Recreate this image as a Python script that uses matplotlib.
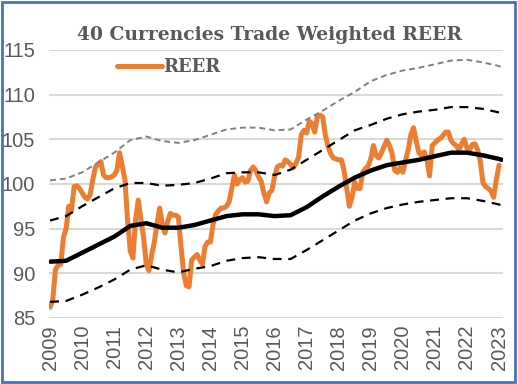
import numpy as np
import matplotlib
matplotlib.use("Agg")
import matplotlib.pyplot as plt
from matplotlib.patches import Rectangle

# Monthly REER, Jan 2009 .. Feb 2023
reer = [
    86.2, 87.0, 90.4, 90.9, 91.0, 94.0, 95.0, 97.5, 97.0, 99.7, 99.8, 99.5,
    99.0, 98.5, 98.3, 98.8, 100.5, 101.9, 102.2, 102.5, 101.0, 100.7, 100.7, 100.8,
    101.0, 101.5, 103.5, 102.0, 100.5, 96.0, 92.5, 91.7, 96.0, 98.2, 96.0, 94.0,
    91.0, 90.3, 92.0, 93.5, 95.5, 97.3, 95.5, 94.5, 95.8, 96.7, 96.5, 96.5,
    96.3, 93.0, 90.0, 88.6, 88.5, 91.5, 91.8, 92.1, 91.5, 91.0, 93.0, 93.5,
    93.5, 95.5, 96.6, 97.0, 97.3, 97.3, 97.5, 98.0, 99.5, 101.0, 100.0, 100.5,
    100.7, 100.2, 100.3, 101.5, 101.9, 101.5, 100.8, 100.3, 99.0, 98.0, 99.0, 99.3,
    100.8, 101.9, 102.1, 102.0, 102.7, 102.5, 102.2, 101.8, 102.3, 103.0, 105.5, 106.0,
    105.7, 107.0, 106.8, 105.8, 107.5, 107.7, 107.5, 105.5, 104.2, 103.4, 102.9, 102.8,
    102.7, 102.7, 101.5, 99.5, 97.5, 98.5, 100.2, 99.5, 99.5, 101.3, 101.7, 102.0,
    102.8, 104.3, 103.2, 102.9, 103.5, 104.2, 104.9, 104.3, 103.4, 101.5, 101.3, 101.8,
    101.3, 102.6, 103.8, 105.5, 106.3, 104.8, 103.5, 103.2, 103.6, 102.8, 100.9, 104.3,
    104.6, 104.9, 105.1, 105.4, 105.8, 105.8, 104.9, 104.5, 104.3, 103.8, 104.5, 105.0,
    104.0, 103.8, 104.4, 104.5, 103.8, 102.5, 100.1, 99.7, 99.5, 99.2, 98.5, 100.5,
    102.1,
]

# Trend and bands, read every six months (month index)
band_months = [0, 6, 12, 18, 24, 30, 36, 42, 48, 54, 60, 66, 72, 78, 84, 90,
               96, 102, 108, 114, 120, 126, 132, 138, 144, 150, 156, 162, 168, 169]
trend = [91.3, 91.4, 92.3, 93.2, 94.1, 95.3, 95.6, 95.1, 95.1, 95.4, 95.9, 96.4,
         96.6, 96.6, 96.4, 96.5, 97.4, 98.6, 99.7, 100.7, 101.5, 102.1, 102.4,
         102.7, 103.1, 103.5, 103.5, 103.2, 102.8, 102.7]
upper1 = [95.9, 96.4, 97.5, 98.5, 99.5, 100.1, 100.1, 99.8, 99.9, 100.1, 100.6,
          101.2, 101.3, 101.3, 101.0, 101.6, 102.7, 103.8, 104.9, 106.0, 106.6,
          107.3, 107.8, 108.1, 108.3, 108.6, 108.6, 108.4, 108.0, 107.9]
lower1 = [86.8, 86.9, 87.6, 88.4, 89.3, 90.4, 90.9, 90.4, 90.1, 90.5, 90.8, 91.4,
          91.7, 91.8, 91.6, 91.6, 92.6, 93.7, 94.8, 95.9, 96.7, 97.3, 97.7, 98.0,
          98.2, 98.4, 98.4, 98.1, 97.7, 97.6]
upper2 = [100.4, 100.6, 101.3, 102.4, 103.5, 104.9, 105.3, 104.8, 104.6, 104.9,
          105.5, 106.1, 106.3, 106.3, 106.0, 106.1, 107.2, 108.2, 109.3, 110.3,
          111.5, 112.2, 112.7, 113.0, 113.4, 113.8, 113.9, 113.6, 113.2, 113.0]

years = list(range(2009, 2024))

text_grey = "#595959"
months = np.arange(len(reer))

fig = plt.figure(figsize=(5.18, 3.84), dpi=100)
ax = fig.add_axes([0.0946, 0.172, 0.876, 0.698])

ax.plot(months, reer, color="#ED7D31", lw=3.6, solid_joinstyle="round",
        solid_capstyle="round", zorder=3, label="REER")
ax.plot(band_months, upper2, color="#808080", lw=1.4, ls=(0, (3, 2)), zorder=4)
ax.plot(band_months, upper1, color="black", lw=1.6, ls=(0, (4, 3)), zorder=4)
ax.plot(band_months, lower1, color="black", lw=1.6, ls=(0, (4, 3)), zorder=4)
ax.plot(band_months, trend, color="black", lw=3.2, zorder=5,
        solid_capstyle="round")

ax.set_ylim(85, 115)
ax.set_yticks(range(85, 116, 5))
ax.set_xlim(-0.4, 169.4)
ax.set_xticks([12 * i for i in range(len(years))])
ax.set_xticklabels([str(y) for y in years], rotation=90)
ax.tick_params(axis="both", length=0, labelsize=14.5, labelcolor=text_grey,
               labelfontfamily="Liberation Sans")
ax.tick_params(axis="x", pad=5)
ax.tick_params(axis="y", pad=10)
ax.grid(axis="y", color="#D9D9D9", lw=1.5)
ax.set_axisbelow(True)
for s in ax.spines.values():
    s.set_visible(False)

fig.text(0.52, 0.909, "40 Currencies Trade Weighted REER", ha="center",
         va="center", fontsize=13.5, fontweight="bold", color=text_grey,
         family="DejaVu Serif")

leg = ax.legend(loc="center left", bbox_to_anchor=(0.113, 0.935), frameon=False,
                handlelength=2.5, handletextpad=0.1,
                prop={"family": "DejaVu Serif", "weight": "bold", "size": 13})
for t in leg.get_texts():
    t.set_color(text_grey)

fig.patches.append(Rectangle((0.003, 0.005), 0.992, 0.991,
                             transform=fig.transFigure, fill=False,
                             edgecolor="#4472C4", lw=2))

plt.savefig("out.png", dpi=100)
